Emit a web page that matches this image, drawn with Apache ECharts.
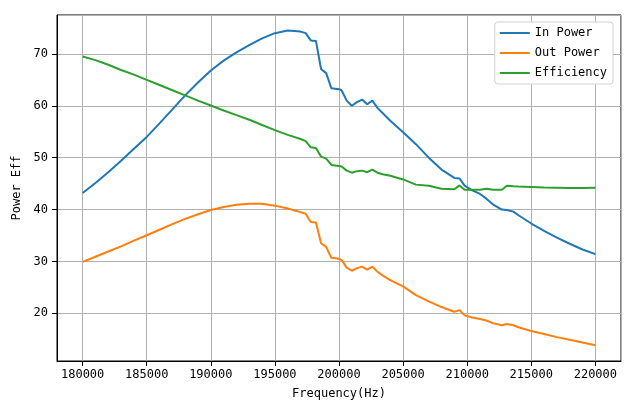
<!DOCTYPE html>
<html>
<head>
<meta charset="utf-8">
<script src="https://cdn.jsdelivr.net/npm/echarts@6/dist/echarts.min.js"></script>
<style>html,body{margin:0;padding:0;background:#fff}#c{width:640px;height:409px}</style>
</head>
<body>
<div id="c"></div>
<script>
const freq = [180000,181000,182000,183000,184000,185000,186000,187000,188000,189000,190000,191000,192000,193000,194000,195000,196000,197000,197400,197800,198200,198600,199000,199400,200000,200200,200600,201000,201400,201800,202200,202600,203000,203400,204000,205000,206000,207000,208000,209000,209400,209800,210400,211000,211500,212000,212700,213100,213600,214000,215000,216000,217000,218000,219000,220000];
const inPower = [43.2,45.1,47.2,49.4,51.7,54.0,56.6,59.3,62.0,64.5,66.8,68.7,70.3,71.7,73.0,74.0,74.5,74.3,74.0,72.6,72.5,67.1,66.3,63.4,63.2,63.0,61.0,60.0,60.7,61.2,60.3,61.0,59.6,58.6,57.1,54.9,52.6,50.0,47.7,46.1,46.0,44.6,43.7,43.0,42.1,41.0,40.0,39.9,39.6,38.9,37.3,35.9,34.6,33.4,32.3,31.4];
const outPower = [29.9,30.9,31.9,32.9,34.0,35.05,36.1,37.2,38.2,39.1,39.9,40.5,40.9,41.1,41.1,40.75,40.2,39.5,39.2,37.6,37.5,33.5,32.8,30.7,30.5,30.3,28.8,28.2,28.7,29.0,28.4,29.0,28.0,27.3,26.4,25.2,23.5,22.3,21.2,20.3,20.6,19.6,19.2,18.9,18.6,18.1,17.7,17.95,17.7,17.3,16.6,16.0,15.4,14.9,14.35,13.85];
const efficiency = [69.5,68.8,67.9,66.9,66.0,65.0,64.0,63.0,62.0,61.0,60.05,59.1,58.2,57.3,56.3,55.3,54.4,53.6,53.2,52.0,51.85,50.2,49.8,48.6,48.4,48.3,47.5,47.1,47.4,47.5,47.2,47.7,47.1,46.8,46.5,45.8,44.8,44.6,44.0,43.9,44.65,43.8,43.8,43.8,44.0,43.8,43.8,44.6,44.5,44.45,44.35,44.25,44.2,44.15,44.15,44.2];
const seriesNames = ['In Power','Out Power','Efficiency'];
const colors = ['#1f77b4','#ff7f0e','#2ca02c'];

const FONT = 'DejaVu Sans Mono';
const chart = echarts.init(document.getElementById('c'), null, {renderer:'canvas'});
const mk = (name, vals, color) => ({
  name, type:'line', data: freq.map((f,i)=>[f, vals[i]]),
  showSymbol:false, symbol:'none', lineStyle:{color, width:2}, itemStyle:{color},
  animation:false
});
chart.setOption({
  animation:false,
  color: colors,
  grid:{left:57, right:19, top:15, bottom:48, show:true, borderColor:'#000', borderWidth:1},
  legend:{
    orient:'vertical', right:27, top:22, icon:'rect', itemWidth:30, itemHeight:2, itemGap:8,
    padding:[5,6,5,5], backgroundColor:'#fff', borderColor:'#d0d0d0', borderWidth:1, borderRadius:3,
    textStyle:{fontFamily:FONT, fontSize:12, color:'#000'},
    data: seriesNames
  },
  xAxis:{
    type:'value', min:178000, max:222000, splitNumber:9,
    name:'Frequency(Hz)', nameLocation:'middle', nameGap:27,
    nameTextStyle:{fontFamily:FONT, fontSize:12, color:'#000'},
    axisLine:{show:true, lineStyle:{color:'#000'}},
    axisTick:{show:true, length:5, lineStyle:{color:'#000'}},
    axisLabel:{fontFamily:FONT, fontSize:12, color:'#000', margin:8, showMinLabel:false, showMaxLabel:false,
      formatter: v => String(v)},
    splitLine:{show:true, lineStyle:{color:'#b0b0b0', width:1}}
  },
  yAxis:{
    type:'value', min:10.8, max:77.5, splitNumber:5,
    name:'Power Eff', nameLocation:'middle', nameGap:32,
    nameTextStyle:{fontFamily:FONT, fontSize:12, color:'#000'},
    axisLine:{show:true, lineStyle:{color:'#000'}},
    axisTick:{show:true, length:5, lineStyle:{color:'#000'}},
    axisLabel:{fontFamily:FONT, fontSize:12, color:'#000', margin:9, showMinLabel:false, showMaxLabel:false,
      formatter: v => String(v)},
    splitLine:{show:true, lineStyle:{color:'#b0b0b0', width:1}}
  },
  series:[mk(seriesNames[0], inPower, colors[0]), mk(seriesNames[1], outPower, colors[1]), mk(seriesNames[2], efficiency, colors[2])]
});
</script>
</body>
</html>
